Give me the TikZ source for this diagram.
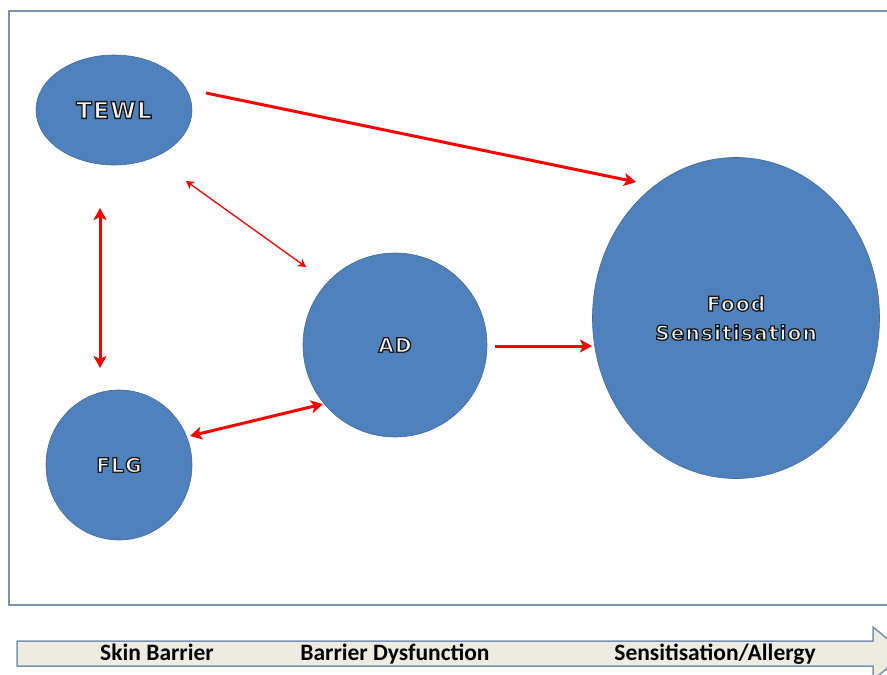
\documentclass[tikz,border=0pt]{standalone}
\usepackage{fontspec}
\setmainfont{Liberation Sans}
\newfontfamily\nodefont[LetterSpace=6]{DejaVu Sans}
\newfontfamily\barfont{Carlito}
\usetikzlibrary{arrows.meta,shapes.geometric}
\definecolor{blobfill}{HTML}{4F81BD}
\definecolor{blobline}{HTML}{41699A}
\definecolor{framecol}{HTML}{7A91B4}
\definecolor{barfill}{HTML}{EEECE1}
\definecolor{arrred}{HTML}{FF0000}
\definecolor{txtfill}{HTML}{F2F2F2}
\newcommand{\ntext}[1]{\textcolor{txtfill}{\special{pdf:literal 2 Tr 1.3 w 0.1 0.1 0.1 RG}#1\special{pdf:literal 0 Tr}}}
\tikzset{
  blob/.style={ellipse, fill=blobfill, draw=blobline, line width=0.6pt, inner sep=0pt,
    font=\nodefont\bfseries\fontsize{20}{31}\selectfont, align=center},
  thickarr/.style={draw=arrred, line width=3pt, -{Stealth[length=12pt,width=13pt,inset=3pt]}},
  thickboth/.style={draw=arrred, line width=3pt, {Stealth[length=12pt,width=13pt,inset=3pt]}-{Stealth[length=12pt,width=13pt,inset=3pt]}},
  thinboth/.style={draw=arrred, line width=1.3pt, {Stealth[length=8pt,width=9pt,inset=2.5pt]}-{Stealth[length=8pt,width=9pt,inset=2.5pt]}},
  bartext/.style={font=\barfont\bfseries\fontsize{23.5}{26}\selectfont, text=black, inner sep=0pt, anchor=base}
}
\begin{document}
\begin{tikzpicture}[x=1pt,y=-1pt]
\useasboundingbox (0,0) rectangle (887,675);
\clip (0,0) rectangle (887,675);
% frame
\draw[framecol, line width=2pt] (895,11) -- (9,11) -- (9,605) -- (895,605);
% bottom progression arrow
\draw[framecol, fill=barfill, line width=1.5pt]
  (17,641) -- (873,641) -- (873,627) -- (905,653.5) -- (873,680) -- (873,666) -- (17,666) -- cycle;
\node[bartext] (sb) at (157,660) {Skin Barrier};
\node[bartext] (bd) at (395,660) {Barrier Dysfunction};
\node[bartext] (sa) at (715,660) {Sensitisation/Allergy};
% nodes
\node[blob, minimum width=156, minimum height=110, font=\nodefont\bfseries\fontsize{23}{26}\selectfont] (tewl) at (114,110) {\ntext{TEWL}};
\node[blob, minimum width=146, minimum height=150] (flg) at (119,465) {\ntext{FLG}};
\node[blob, minimum width=184, minimum height=184] (ad) at (395,345) {\ntext{AD}};
\node[blob, minimum width=287, minimum height=321] (food) at (736,318) {\ntext{Food}\\[-2pt]\ntext{Sensitisation}};
% connector ends
\coordinate (t1) at ([shift={(92,-17)}]tewl.center);
\coordinate (t2) at ([shift={(72,71)}]tewl.center);
\coordinate (t3) at ([shift={(-14,98)}]tewl.center);
\coordinate (f1) at ([shift={(-100,-136)}]food.center);
\coordinate (f2) at ([shift={(-144,28)}]food.center);
\coordinate (a1) at ([shift={(-89,-78)}]ad.center);
\coordinate (a2) at ([shift={(-72,59)}]ad.center);
\coordinate (a3) at ([shift={(100,1)}]ad.center);
\coordinate (g1) at ([shift={(-19,-97)}]flg.center);
\coordinate (g2) at ([shift={(71,-29)}]flg.center);
% connectors
\draw[thickarr] (t1) -- (f1);
\draw[thinboth] (t2) -- (a1);
\draw[thickboth] (t3) -- (g1);
\draw[thickboth] (g2) -- (a2);
\draw[thickarr] (a3) -- (f2);
\end{tikzpicture}
\end{document}
